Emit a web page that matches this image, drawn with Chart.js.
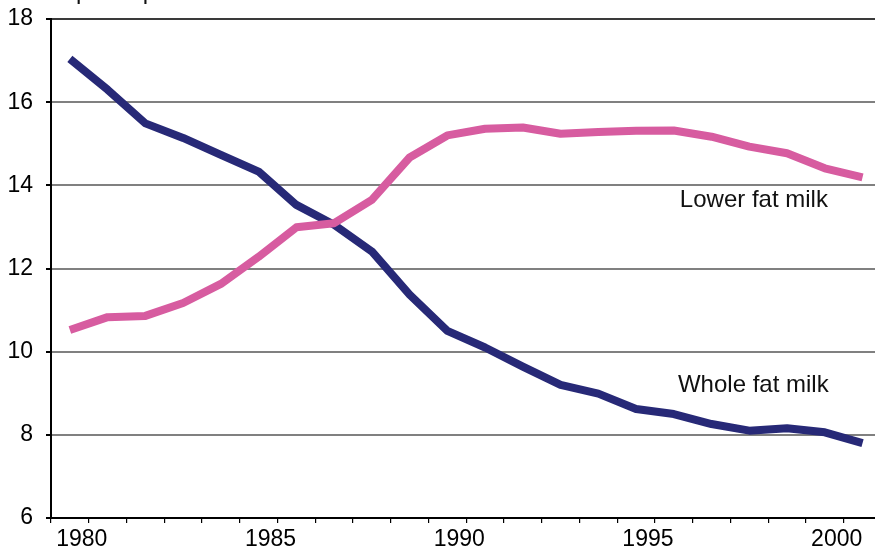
<!DOCTYPE html>
<html>
<head>
<meta charset="utf-8">
<script src="https://cdn.jsdelivr.net/npm/chart.js@4.4.1/dist/chart.umd.min.js"></script>
<style>
  html, body { margin: 0; padding: 0; background: #fff; }
</style>
</head>
<body>
<canvas id="c" width="875" height="550"></canvas>
<script>
// Per capita fluid milk consumption, gallons, 1979-2000
const years = [1979, 1980, 1981, 1982, 1983, 1984, 1985, 1986, 1987, 1988, 1989,
               1990, 1991, 1992, 1993, 1994, 1995, 1996, 1997, 1998, 1999, 2000];
const wholeMilk = [17.04, 16.30, 15.49, 15.14, 14.73, 14.33, 13.53, 13.05, 12.41, 11.37, 10.50,
                   10.10, 9.64, 9.20, 8.99, 8.62, 8.50, 8.26, 8.10, 8.16, 8.06, 7.80];
const lowerFatMilk = [10.52, 10.83, 10.86, 11.17, 11.63, 12.28, 12.99, 13.09, 13.65, 14.67, 15.20,
                      15.36, 15.39, 15.24, 15.28, 15.31, 15.32, 15.17, 14.93, 14.77, 14.41, 14.19];
const yTicks = [6, 8, 10, 12, 14, 16, 18];
const xLabelYears = [1980, 1985, 1990, 1995, 2000];
const unitLabel = 'Gallons per capita';
const seriesNames = ['Lower fat milk', 'Whole fat milk'];

const FONT = '"Liberation Sans", Arial, Helvetica, sans-serif';

// each year's value sits in the middle of its year
const toPoints = vals => vals.map((v, i) => ({ x: years[i] + 0.5, y: v }));

// series names written beside the lines, plus the unit caption at the top
const textPlugin = {
  id: 'seriesText',
  afterDatasetsDraw(chart) {
    const { ctx, scales: { x, y } } = chart;
    ctx.save();
    ctx.fillStyle = '#111';
    ctx.font = '24px ' + FONT;
    ctx.textAlign = 'left';
    ctx.textBaseline = 'middle';
    ctx.fillText(seriesNames[0], x.getPixelForValue(1995.66), y.getPixelForValue(13.63));
    ctx.fillText(seriesNames[1], x.getPixelForValue(1995.61), y.getPixelForValue(9.2));
    ctx.textBaseline = 'alphabetic';
    ctx.fillText(unitLabel, -12, -1.5);
    ctx.restore();
  }
};

new Chart(document.getElementById('c'), {
  type: 'line',
  data: {
    datasets: [
      {
        label: seriesNames[0],
        data: toPoints(lowerFatMilk),
        borderColor: '#d75ca0',
        borderWidth: 8,
        pointRadius: 0,
        tension: 0,
        borderCapStyle: 'butt',
        borderJoinStyle: 'round',
        fill: false
      },
      {
        label: seriesNames[1],
        data: toPoints(wholeMilk),
        borderColor: '#272977',
        borderWidth: 8,
        pointRadius: 0,
        tension: 0,
        borderCapStyle: 'butt',
        borderJoinStyle: 'round',
        fill: false
      }
    ]
  },
  options: {
    responsive: false,
    animation: false,
    events: [],
    layout: { padding: { top: 19, right: 0, bottom: 0, left: 0 } },
    plugins: {
      legend: { display: false },
      tooltip: { enabled: false },
      title: { display: false }
    },
    scales: {
      x: {
        type: 'linear',
        min: 1979,
        max: 2000.83,
        afterFit(scale) { scale.height = 32; scale.paddingLeft = 0; scale.paddingRight = 0; },
        border: { display: true, color: '#000', width: 2 },
        grid: { drawOnChartArea: false, drawTicks: true, tickLength: 5, color: '#000', lineWidth: 1.2 },
        ticks: {
          stepSize: 1,
          includeBounds: false,
          autoSkip: false,
          maxRotation: 0,
          padding: 3,
          labelOffset: -7,
          color: '#000',
          font: { family: FONT, size: 23 },
          callback: v => xLabelYears.includes(v) ? String(v) : ''
        }
      },
      y: {
        min: 6,
        max: 18,
        afterFit(scale) { scale.width = 51; scale.paddingTop = 0; scale.paddingBottom = 0; },
        afterBuildTicks(scale) { scale.ticks = yTicks.map(v => ({ value: v })); },
        border: { display: true, color: '#000', width: 2 },
        grid: {
          drawOnChartArea: true,
          drawTicks: true,
          tickLength: 5,
          tickColor: '#000',
          lineWidth: 2,
          color: ctx => ctx.tick && ctx.tick.value === 18 ? '#3a3a3a' : '#808080'
        },
        ticks: {
          padding: 13,
          color: '#000',
          font: { family: FONT, size: 23 }
        }
      }
    }
  },
  plugins: [textPlugin]
});
</script>
</body>
</html>
